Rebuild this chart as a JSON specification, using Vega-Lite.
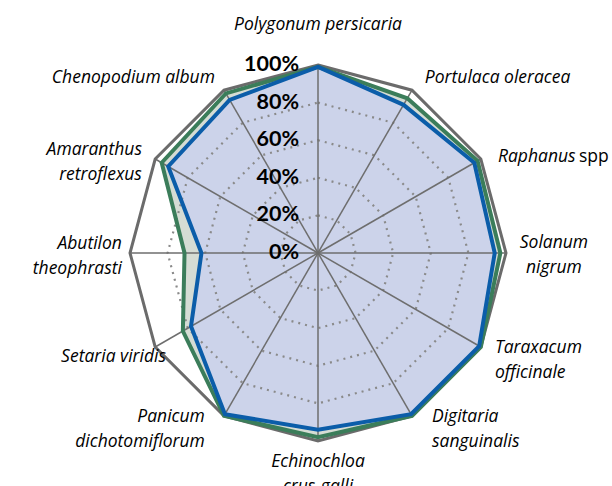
{
  "$schema": "https://vega.github.io/schema/vega-lite/v6.json",
  "width": 612,
  "height": 486,
  "autosize": "none",
  "padding": 0,
  "background": "#ffffff",
  "config": {"view": {"stroke": null}},
  "datasets": {
    "axes": [
      {"idx": 0, "species": "Polygonum persicaria", "label": "Polygonum persicaria"},
      {"idx": 1, "species": "Portulaca oleracea", "label": "Portulaca oleracea"},
      {"idx": 2, "species": "Raphanus spp", "label": "Raphanus", "upright": "spp"},
      {"idx": 3, "species": "Solanum nigrum", "label": "Solanum\nnigrum"},
      {"idx": 4, "species": "Taraxacum officinale", "label": "Taraxacum\nofficinale"},
      {"idx": 5, "species": "Digitaria sanguinalis", "label": "Digitaria\nsanguinalis"},
      {"idx": 6, "species": "Echinochloa crus-galli", "label": "Echinochloa\ncrus-galli"},
      {"idx": 7, "species": "Panicum dichotomiflorum", "label": "Panicum\ndichotomiflorum"},
      {"idx": 8, "species": "Setaria viridis", "label": "Setaria viridis"},
      {"idx": 9, "species": "Abutilon theophrasti", "label": "Abutilon\ntheophrasti"},
      {"idx": 10, "species": "Amaranthus retroflexus", "label": "Amaranthus\nretroflexus"},
      {"idx": 11, "species": "Chenopodium album", "label": "Chenopodium album"}
    ],
    "values": [
      {"species": "Polygonum persicaria", "series": "Control", "value": 100},
      {"species": "Portulaca oleracea", "series": "Control", "value": 100},
      {"species": "Raphanus spp", "series": "Control", "value": 100},
      {"species": "Solanum nigrum", "series": "Control", "value": 100},
      {"species": "Taraxacum officinale", "series": "Control", "value": 100},
      {"species": "Digitaria sanguinalis", "series": "Control", "value": 100},
      {"species": "Echinochloa crus-galli", "series": "Control", "value": 100},
      {"species": "Panicum dichotomiflorum", "series": "Control", "value": 100},
      {"species": "Setaria viridis", "series": "Control", "value": 100},
      {"species": "Abutilon theophrasti", "series": "Control", "value": 100},
      {"species": "Amaranthus retroflexus", "series": "Control", "value": 100},
      {"species": "Chenopodium album", "series": "Control", "value": 100},
      {"species": "Polygonum persicaria", "series": "Green", "value": 99},
      {"species": "Portulaca oleracea", "series": "Green", "value": 95},
      {"species": "Raphanus spp", "series": "Green", "value": 98},
      {"species": "Solanum nigrum", "series": "Green", "value": 97},
      {"species": "Taraxacum officinale", "series": "Green", "value": 100},
      {"species": "Digitaria sanguinalis", "series": "Green", "value": 100},
      {"species": "Echinochloa crus-galli", "series": "Green", "value": 98},
      {"species": "Panicum dichotomiflorum", "series": "Green", "value": 100},
      {"species": "Setaria viridis", "series": "Green", "value": 83},
      {"species": "Abutilon theophrasti", "series": "Green", "value": 71},
      {"species": "Amaranthus retroflexus", "series": "Green", "value": 96},
      {"species": "Chenopodium album", "series": "Green", "value": 98},
      {"species": "Polygonum persicaria", "series": "Blue", "value": 99},
      {"species": "Portulaca oleracea", "series": "Blue", "value": 91},
      {"species": "Raphanus spp", "series": "Blue", "value": 96},
      {"species": "Solanum nigrum", "series": "Blue", "value": 94},
      {"species": "Taraxacum officinale", "series": "Blue", "value": 99},
      {"species": "Digitaria sanguinalis", "series": "Blue", "value": 99},
      {"species": "Echinochloa crus-galli", "series": "Blue", "value": 94},
      {"species": "Panicum dichotomiflorum", "series": "Blue", "value": 99},
      {"species": "Setaria viridis", "series": "Blue", "value": 78},
      {"species": "Abutilon theophrasti", "series": "Blue", "value": 62},
      {"species": "Amaranthus retroflexus", "series": "Blue", "value": 92},
      {"species": "Chenopodium album", "series": "Blue", "value": 94}
    ],
    "ticks": [{"level": 0}, {"level": 20}, {"level": 40}, {"level": 60}, {"level": 80}, {"level": 100}]
  },
  "layer": [
    {
      "data": {"name": "values"},
      "transform": [
        {"lookup": "species", "from": {"data": {"name": "axes"}, "key": "species", "fields": ["idx"]}},
        {"calculate": "datum.idx*PI/6", "as": "ang"},
        {"calculate": "datum.value*sin(datum.ang)", "as": "x"},
        {"calculate": "datum.value*cos(datum.ang)", "as": "y"}
      ],
      "encoding": {
        "x": {"field": "x", "type": "quantitative", "scale": {"domain": [-169.15, 156.38], "nice": false, "zero": false}, "axis": null},
        "y": {"field": "y", "type": "quantitative", "scale": {"domain": [-123.94, 134.57], "nice": false, "zero": false}, "axis": null},
        "order": {"field": "idx", "type": "quantitative"}
      },
      "layer": [
        {"transform": [{"filter": "datum.series === 'Green'"}], "mark": {"type": "line", "interpolate": "linear-closed", "fill": "#d5dcd4", "strokeWidth": 0}},
        {"transform": [{"filter": "datum.series === 'Blue'"}], "mark": {"type": "line", "interpolate": "linear-closed", "fill": "#ccd3ea", "strokeWidth": 0}}
      ]
    },
    {
      "data": {"name": "axes"},
      "transform": [
        {"calculate": "[20,40,60,80]", "as": "lv"},
        {"flatten": ["lv"]},
        {"calculate": "datum.idx*PI/6", "as": "ang"},
        {"calculate": "datum.lv*sin(datum.ang)", "as": "x"},
        {"calculate": "datum.lv*cos(datum.ang)", "as": "y"}
      ],
      "mark": {"type": "line", "interpolate": "linear-closed", "color": "#8a8a8a", "strokeWidth": 2.2, "strokeDash": [2, 5]},
      "encoding": {
        "x": {"field": "x", "type": "quantitative", "scale": {"domain": [-169.15, 156.38], "nice": false, "zero": false}, "axis": null},
        "y": {"field": "y", "type": "quantitative", "scale": {"domain": [-123.94, 134.57], "nice": false, "zero": false}, "axis": null},
        "detail": {"field": "lv", "type": "nominal"},
        "order": {"field": "idx", "type": "quantitative"}
      }
    },
    {
      "data": {"name": "axes"},
      "transform": [
        {"calculate": "datum.idx*PI/6", "as": "ang"},
        {"calculate": "0", "as": "x"},
        {"calculate": "0", "as": "y"},
        {"calculate": "100*sin(datum.ang)", "as": "sx"},
        {"calculate": "100*cos(datum.ang)", "as": "sy"}
      ],
      "mark": {"type": "rule", "color": "#6e6e6e", "strokeWidth": 1.5},
      "encoding": {
        "x": {"field": "x", "type": "quantitative", "scale": {"domain": [-169.15, 156.38], "nice": false, "zero": false}, "axis": null},
        "y": {"field": "y", "type": "quantitative", "scale": {"domain": [-123.94, 134.57], "nice": false, "zero": false}, "axis": null},
        "x2": {"field": "sx"},
        "y2": {"field": "sy"}
      }
    },
    {
      "data": {"name": "values"},
      "transform": [
        {"lookup": "species", "from": {"data": {"name": "axes"}, "key": "species", "fields": ["idx"]}},
        {"calculate": "datum.idx*PI/6", "as": "ang"},
        {"calculate": "datum.value*sin(datum.ang)", "as": "x"},
        {"calculate": "datum.value*cos(datum.ang)", "as": "y"}
      ],
      "encoding": {
        "x": {"field": "x", "type": "quantitative", "scale": {"domain": [-169.15, 156.38], "nice": false, "zero": false}, "axis": null},
        "y": {"field": "y", "type": "quantitative", "scale": {"domain": [-123.94, 134.57], "nice": false, "zero": false}, "axis": null},
        "order": {"field": "idx", "type": "quantitative"}
      },
      "layer": [
        {"transform": [{"filter": "datum.series === 'Control'"}], "mark": {"type": "line", "interpolate": "linear-closed", "color": "#6b6b6b", "strokeWidth": 3, "strokeJoin": "miter"}},
        {"transform": [{"filter": "datum.series === 'Green'"}], "mark": {"type": "line", "interpolate": "linear-closed", "color": "#3b7d5a", "strokeWidth": 4, "strokeJoin": "miter"}},
        {"transform": [{"filter": "datum.series === 'Blue'"}], "mark": {"type": "line", "interpolate": "linear-closed", "color": "#0b5da9", "strokeWidth": 4, "strokeJoin": "miter"}}
      ]
    },
    {
      "data": {"name": "ticks"},
      "transform": [{"calculate": "datum.level + '%'", "as": "lab"}, {"calculate": "0", "as": "x"}],
      "mark": {"type": "text", "align": "right", "baseline": "middle", "dx": -19, "font": "Lato", "fontSize": 21.5, "fontWeight": "bold", "color": "#000000"},
      "encoding": {
        "x": {"field": "x", "type": "quantitative", "scale": {"domain": [-169.15, 156.38], "nice": false, "zero": false}, "axis": null},
        "y": {"field": "level", "type": "quantitative", "scale": {"domain": [-123.94, 134.57], "nice": false, "zero": false}, "axis": null},
        "text": {"field": "lab", "type": "nominal"}
      }
    },
    {
      "data": {"name": "axes"},
      "transform": [
        {"calculate": "[121.3,109.1,108.5,125.5,110,111.9,117.6,111.7,98,104.3,105.4,108][datum.idx]", "as": "lr"},
        {"calculate": "[0,31.4,61.9,90.7,121.2,147.2,180,212.6,235.6,269,297.3,329.5][datum.idx]*PI/180", "as": "la"},
        {"calculate": "indexof(datum.label, '\\n') >= 0 ? 12.5/1.88 : 0", "as": "shift"},
        {"calculate": "datum.lr*sin(datum.la)", "as": "x"},
        {"calculate": "datum.lr*cos(datum.la) + datum.shift", "as": "y"},
        {"calculate": "(datum.idx === 0 || datum.idx === 3 || datum.idx === 6) ? 'center' : (datum.idx < 6 ? 'left' : 'right')", "as": "al"}
      ],
      "encoding": {
        "x": {"field": "x", "type": "quantitative", "scale": {"domain": [-169.15, 156.38], "nice": false, "zero": false}, "axis": null},
        "y": {"field": "y", "type": "quantitative", "scale": {"domain": [-123.94, 134.57], "nice": false, "zero": false}, "axis": null},
        "text": {"field": "label", "type": "nominal"}
      },
      "layer": [
        {"transform": [{"filter": "datum.al === 'center'"}], "mark": {"type": "text", "align": "center", "baseline": "middle", "font": "Open Sans", "fontSize": 17.5, "fontStyle": "italic", "color": "#000000", "lineBreak": "\n", "lineHeight": 25}},
        {"transform": [{"filter": "datum.al === 'left'"}], "mark": {"type": "text", "align": "left", "baseline": "middle", "font": "Open Sans", "fontSize": 17.5, "fontStyle": "italic", "color": "#000000", "lineBreak": "\n", "lineHeight": 25}},
        {"transform": [{"filter": "datum.al === 'right'"}], "mark": {"type": "text", "align": "right", "baseline": "middle", "font": "Open Sans", "fontSize": 17.5, "fontStyle": "italic", "color": "#000000", "lineBreak": "\n", "lineHeight": 25}},
        {"transform": [{"filter": "isValid(datum.upright)"}], "mark": {"type": "text", "align": "left", "baseline": "middle", "dx": 81, "font": "Open Sans", "fontSize": 17.5, "color": "#000000"}, "encoding": {"text": {"field": "upright", "type": "nominal"}}}
      ]
    }
  ]
}
